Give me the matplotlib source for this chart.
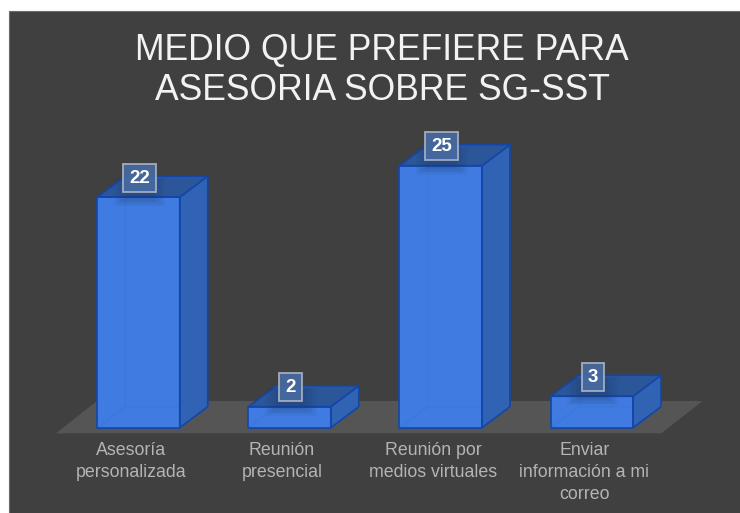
import numpy as np
import matplotlib
matplotlib.use("Agg")
import matplotlib.pyplot as plt
from matplotlib.patches import Polygon, Rectangle

categories = ["Asesoría\npersonalizada", "Reunión\npresencial",
              "Reunión por\nmedios virtuales", "Enviar\ninformación a mi\ncorreo"]
values = [22, 2, 25, 3]
title = "MEDIO QUE PREFIERE PARA\nASESORIA SOBRE SG-SST"

W, H = 740, 513
fig = plt.figure(figsize=(W/100, H/100), dpi=100, facecolor="white")
ax = fig.add_axes([0, 0, 1, 1])
ax.set_axis_off()
ppx, x0 = 151.1, 138.5
ppy, y0 = 10.48, 427.7
ax.set_xlim((0-x0)/ppx, (W-x0)/ppx)
ax.set_ylim((y0-H)/ppy, (y0-0)/ppy)
ux, uy = 1/ppx, 1/ppy

ax.add_patch(Polygon([[(9-x0)*ux, (y0-H-5)*uy], [(W+5-x0)*ux, (y0-H-5)*uy], [(W+5-x0)*ux, (y0-11)*uy], [(9-x0)*ux, (y0-11)*uy]],
                     closed=True, fc="#404040", ec="#6a6a6a", lw=0.8, zorder=0))

# floor
ax.add_patch(Polygon([[-0.547, -0.54], [3.46, -0.54], [3.733, 2.55], [-0.275, 2.55]], closed=True,
                     fc="#555555", ec="none", zorder=1))

hw = 0.2727
dx, dy = 28*ux, 21*uy
edge = "#1446a8"
for i, v in enumerate(values):
    l, r = i-hw, i+hw
    z = 2+i*0.1
    ax.add_patch(Polygon([[l, 0], [r, 0], [r+dx, dy], [l+dx, dy]], closed=True, fc="#3a6fc8", ec="none", zorder=z))
    ax.add_patch(Polygon([[l, 0], [r, 0], [r, v], [l, v]], closed=True, fc="#3f7be0", ec="none", zorder=z+0.01))
    ax.plot([l, l+dx, r+dx], [0, dy, dy], color="#3a78dc", lw=0.9, zorder=z+0.02)
    ax.plot([l+dx, l+dx], [dy, v+dy], color="#3a78dc", lw=0.9, zorder=z+0.02)
    ax.add_patch(Polygon([[r, 0], [r+dx, dy], [r+dx, v+dy], [r, v]], closed=True, fc="#3163b4", ec=edge, lw=1.2, zorder=z+0.03, joinstyle="round"))
    ax.add_patch(Polygon([[l, v], [r, v], [r+dx, v+dy], [l+dx, v+dy]], closed=True, fc="#2b5699", ec=edge, lw=1.2, zorder=z+0.03, joinstyle="round"))
    ax.add_patch(Polygon([[l, 0], [r, 0], [r, v], [l, v]], closed=True, fc="none", ec=edge, lw=1.2, zorder=z+0.04, joinstyle="round"))
    cx, cy = i+1*ux, v+19.5*uy
    for k in range(6):
        s = 1-k/6
        hwid = 12+14*s
        ax.add_patch(Rectangle((cx-hwid*ux, v-(1+8*s)*uy), 2*hwid*ux, (19+9*s)*uy,
                               fc="#223a66", ec="none", alpha=0.06, zorder=z+0.05))
    bw = 33 if v >= 10 else 22.5
    ax.add_patch(Rectangle((cx-bw/2*ux, cy-14*uy), bw*ux, 28*uy, fc="#476a9f", ec="#aab4c4", lw=1.3, alpha=0.92, zorder=z+0.06))
    ax.text(cx, cy-0.5*uy, str(v), ha="center", va="center", color="white", fontsize=13.5,
            fontweight="bold", family="Liberation Sans", zorder=z+0.07)
    ax.text(i-0.05, (y0-442)*uy, categories[i], ha="center", va="top", color="#b4b4b4", fontsize=12.8,
            family="Liberation Sans", linespacing=1.38, zorder=5)

ax.text(1.612, (y0-70.5)*uy, title, ha="center", va="center", color="#f2f2f2", fontsize=25.6,
        family="Liberation Sans", linespacing=1.2, zorder=5)
fig.savefig("out.png", dpi=100, facecolor="white")
